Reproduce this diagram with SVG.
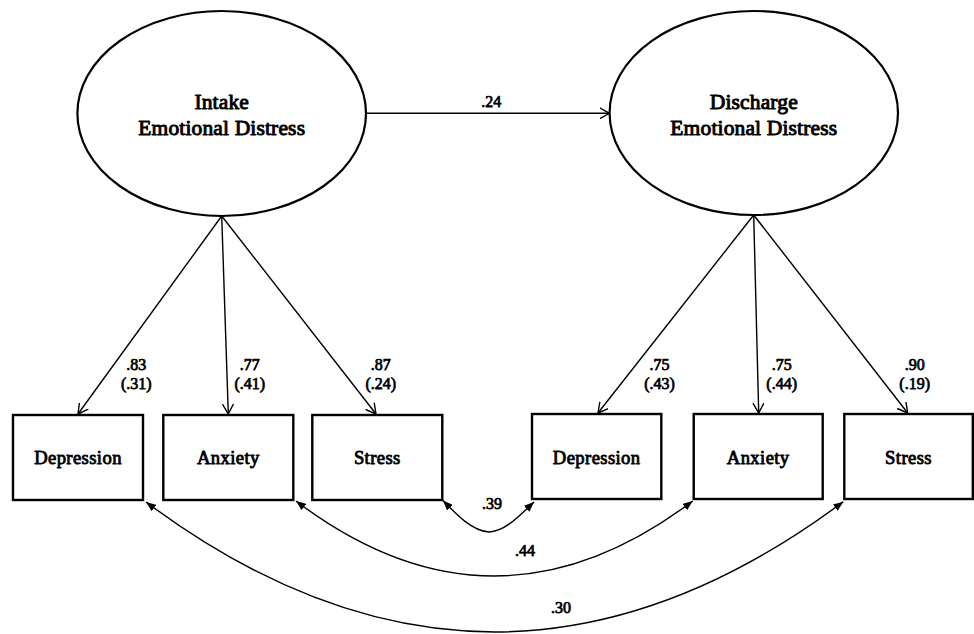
<svg xmlns="http://www.w3.org/2000/svg" width="974" height="634" viewBox="0 0 974 634">
<defs>
<style>
.lat{fill:#fff;stroke:#000;stroke-width:2.2}
.obs{fill:#fff;stroke:#000;stroke-width:2.4}
text{font-family:'Liberation Serif','Times New Roman',serif;font-weight:normal;text-anchor:middle;fill:#000;stroke:#000;stroke-linejoin:round}
.t1{font-size:21.5px;stroke-width:0.95px;letter-spacing:0.15px}
.t2{font-size:18.6px;stroke-width:0.85px;letter-spacing:0.4px}
.lb{font-size:16px;stroke-width:0.75px}
.ld{fill:none;stroke:#000;stroke-width:1.4;marker-end:url(#open)}
.cv{fill:none;stroke:#000;stroke-width:1.4;marker-start:url(#fill);marker-end:url(#fill)}
</style>
<marker id="open" viewBox="0 0 10 12" refX="10" refY="6" markerWidth="10" markerHeight="12" markerUnits="userSpaceOnUse" orient="auto">
<path d="M0,0.5 L10,6 L0,11.5" fill="none" stroke="#000" stroke-width="1.4"/>
</marker>
<marker id="fill" viewBox="0 0 10 8" refX="10" refY="4" markerWidth="10" markerHeight="8" markerUnits="userSpaceOnUse" orient="auto-start-reverse">
<path d="M0,0 L10,4 L0,8 Z" fill="#000"/>
</marker>
</defs>
<rect width="974" height="634" fill="#fff"/>
<g id="connectors">
<line class="ld" x1="366" y1="113.3" x2="609.5" y2="113.3"/>
<line class="ld" x1="221.7" y1="216" x2="78" y2="414"/>
<line class="ld" x1="221.7" y1="216" x2="228.3" y2="414"/>
<line class="ld" x1="221.7" y1="216" x2="376" y2="414"/>
<line class="ld" x1="753.7" y1="215" x2="598" y2="413"/>
<line class="ld" x1="753.7" y1="215" x2="758.7" y2="413"/>
<line class="ld" x1="753.7" y1="215" x2="907.7" y2="413"/>
<path class="cv" d="M443,500.5 C456,514 472,531 489,532 C506,531 520,515 534,502"/>
<path class="cv" d="M296,501 Q494,651 692.7,501"/>
<path class="cv" d="M146,502 Q494.5,762 843.3,501.7"/>
<text class="lb" x="491.3" y="107.3">.24</text>
<text class="lb" x="136.3" y="369.7">.83</text>
<text class="lb" x="136.3" y="389.3">(.31)</text>
<text class="lb" x="249.8" y="369.7">.77</text>
<text class="lb" x="249.8" y="389.3">(.41)</text>
<text class="lb" x="380.8" y="369.7">.87</text>
<text class="lb" x="380.8" y="389.3">(.24)</text>
<text class="lb" x="659.5" y="369.7">.75</text>
<text class="lb" x="659.5" y="389.3">(.43)</text>
<text class="lb" x="781.7" y="369.7">.75</text>
<text class="lb" x="781.7" y="389.3">(.44)</text>
<text class="lb" x="914.7" y="369.7">.90</text>
<text class="lb" x="914.7" y="389.3">(.19)</text>
<text class="lb" x="492" y="509.3">.39</text>
<text class="lb" x="525" y="556">.44</text>
<text class="lb" x="561" y="613.3">.30</text>
</g>
<g id="intake">
<ellipse class="lat" cx="221.7" cy="113.5" rx="144.3" ry="102.5"/>
<text class="t1" x="221.7" y="109">Intake</text>
<text class="t1" x="221.7" y="135">Emotional Distress</text>
</g>
<g id="discharge">
<ellipse class="lat" cx="753.8" cy="113" rx="144.2" ry="102"/>
<text class="t1" x="753.8" y="109">Discharge</text>
<text class="t1" x="753.8" y="135">Emotional Distress</text>
</g>
<g id="dep1"><rect class="obs" x="13" y="415" width="130" height="85"/><text class="t2" x="78" y="464.3">Depression</text></g>
<g id="anx1"><rect class="obs" x="163.3" y="415" width="130" height="85"/><text class="t2" x="228.3" y="464.3">Anxiety</text></g>
<g id="str1"><rect class="obs" x="312.3" y="415" width="130" height="85"/><text class="t2" x="377.3" y="464.3">Stress</text></g>
<g id="dep2"><rect class="obs" x="532" y="414" width="129.3" height="85"/><text class="t2" x="596.7" y="463.5">Depression</text></g>
<g id="anx2"><rect class="obs" x="693.7" y="414" width="129" height="85"/><text class="t2" x="758.2" y="463.5">Anxiety</text></g>
<g id="str2"><rect class="obs" x="844.3" y="414" width="128.5" height="85"/><text class="t2" x="908.5" y="463.5">Stress</text></g>
</svg>
